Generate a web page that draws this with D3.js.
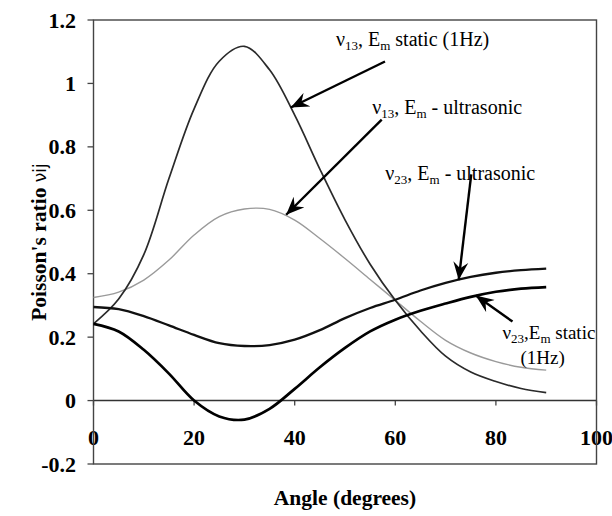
<!DOCTYPE html>
<html>
<head>
<meta charset="utf-8">
<script src="https://cdn.jsdelivr.net/npm/d3@7"></script>
<style>
  html, body { margin: 0; padding: 0; background: #fff; }
  svg { display: block; }
  text { font-family: "Liberation Serif", "Times New Roman", serif; fill: #000; }
</style>
</head>
<body>
<svg id="chart" width="612" height="516"></svg>
<script>
// ---- data ----
const angles = [0, 5, 10, 15, 20, 25, 30, 35, 40, 45, 50, 55, 60, 65, 70, 75, 80, 85, 90];
const nu13Static = [0.242, 0.32, 0.46, 0.70, 0.92, 1.07, 1.117, 1.043, 0.90, 0.73, 0.57, 0.43, 0.316, 0.22, 0.14, 0.09, 0.06, 0.038, 0.025];
const nu13Ultra  = [0.325, 0.342, 0.38, 0.443, 0.522, 0.58, 0.604, 0.603, 0.569, 0.511, 0.448, 0.382, 0.316, 0.25, 0.19, 0.15, 0.123, 0.105, 0.096];
const nu23Ultra  = [0.295, 0.288, 0.266, 0.237, 0.207, 0.181, 0.172, 0.175, 0.192, 0.222, 0.26, 0.292, 0.318, 0.347, 0.371, 0.39, 0.403, 0.411, 0.416];
const nu23Static = [0.242, 0.218, 0.16, 0.085, 0.0, -0.05, -0.06, -0.026, 0.037, 0.105, 0.166, 0.218, 0.255, 0.283, 0.306, 0.327, 0.343, 0.353, 0.358];
const xTicks = [0, 20, 40, 60, 80, 100];
const yTicks = [-0.2, 0, 0.2, 0.4, 0.6, 0.8, 1, 1.2];
const yTickLabels = ["-0.2", "0", "0.2", "0.4", "0.6", "0.8", "1", "1.2"];

// ---- layout ----
const svg = d3.select("#chart");
const x = d3.scaleLinear().domain([0, 100]).range([93.5, 596.5]);
const y = d3.scaleLinear().domain([-0.2, 1.2]).range([464, 20]);

// tick labels (drawn first so the frame lines overlap them)
svg.append("g").selectAll("text").data(xTicks).join("text")
  .attr("x", d => x(d)).attr("y", 445)
  .attr("text-anchor", "middle")
  .attr("font-weight", "bold").attr("font-size", 22)
  .text(d => d);

svg.append("g").selectAll("text").data(yTicks).join("text")
  .attr("x", 76).attr("y", d => y(d) + 7.5)
  .attr("text-anchor", "end")
  .attr("font-weight", "bold").attr("font-size", 22)
  .text((d, i) => yTickLabels[i]);

// y tick marks
svg.append("g").selectAll("line").data(yTicks).join("line")
  .attr("x1", x(0) - 6).attr("x2", x(0))
  .attr("y1", d => y(d)).attr("y2", d => y(d))
  .attr("stroke", "#444").attr("stroke-width", 1.3);

// x tick marks on the zero line
svg.append("g").selectAll("line").data(xTicks).join("line")
  .attr("x1", d => x(d)).attr("x2", d => x(d))
  .attr("y1", y(0)).attr("y2", y(0) + 5)
  .attr("stroke", "#444").attr("stroke-width", 1.3);

// zero line
svg.append("line")
  .attr("x1", x(0)).attr("x2", x(100))
  .attr("y1", y(0)).attr("y2", y(0))
  .attr("stroke", "#333").attr("stroke-width", 1.4);

// frame
svg.append("rect")
  .attr("x", x(0)).attr("y", y(1.2))
  .attr("width", x(100) - x(0)).attr("height", y(-0.2) - y(1.2))
  .attr("fill", "none").attr("stroke", "#444").attr("stroke-width", 1.4);

// axis titles
svg.append("text")
  .attr("x", 345).attr("y", 505)
  .attr("text-anchor", "middle")
  .attr("font-weight", "bold").attr("font-size", 21.5)
  .text("Angle (degrees)");

const yt = svg.append("text")
  .attr("transform", "translate(46,242) rotate(-90)")
  .attr("text-anchor", "middle")
  .attr("font-size", 21.5);
yt.append("tspan").attr("font-weight", "bold").text("Poisson's ratio ");
yt.append("tspan").attr("font-weight", "normal").attr("font-family", "'DejaVu Sans', sans-serif").attr("font-size", 17).text("νij");

// curves
const line = d3.line().x((d, i) => x(angles[i])).y(d => y(d)).curve(d3.curveCatmullRom.alpha(0.5));
const seriesList = [
  { values: nu13Ultra, color: "#9a9a9a", width: 1.4 },
  { values: nu13Static, color: "#2a2a2a", width: 1.7 },
  { values: nu23Ultra, color: "#111", width: 2.3 },
  { values: nu23Static, color: "#000", width: 2.7 }
];
svg.append("g").selectAll("path").data(seriesList).join("path")
  .attr("d", s => line(s.values))
  .attr("fill", "none")
  .attr("stroke", s => s.color)
  .attr("stroke-width", s => s.width)
  .attr("stroke-linejoin", "round");

// arrows (data coordinates: tail -> tip on a curve)
svg.append("defs").append("marker")
  .attr("id", "ah").attr("viewBox", "-18 -8 20 16")
  .attr("refX", 0).attr("refY", 0)
  .attr("markerWidth", 20).attr("markerHeight", 16)
  .attr("markerUnits", "userSpaceOnUse").attr("orient", "auto")
  .append("path").attr("d", "M0,0 L-18,-7.5 L-12,0 L-18,7.5 Z").attr("fill", "#000");

const arrows = [
  { from: [57.95, 1.069], to: [39.2, 0.924] },
  { from: [57.3, 0.886], to: [38.3, 0.586] },
  { from: [75.1, 0.713], to: [72.6, 0.380] },
  { from: [83.3, 0.249], to: [76.0, 0.331] }
];
svg.append("g").selectAll("line").data(arrows).join("line")
  .attr("x1", d => x(d.from[0])).attr("y1", d => y(d.from[1]))
  .attr("x2", d => x(d.to[0])).attr("y2", d => y(d.to[1]))
  .attr("stroke", "#000").attr("stroke-width", 2.4)
  .attr("marker-end", "url(#ah)");

// annotation labels
const labels = [
  { at: [48.2, 1.117], size: 20, parts: [["ν"], ["13", 1], [", E"], ["m", 1], [" static (1Hz)"]] },
  { at: [55.4, 0.905], size: 20, parts: [["ν"], ["13", 1], [", E"], ["m", 1], [" - ultrasonic"]] },
  { at: [58.0, 0.697], size: 20, parts: [["ν"], ["23", 1], [", E"], ["m", 1], [" - ultrasonic"]] },
  { at: [81.3, 0.195], size: 19, parts: [["ν"], ["23", 1], [",E"], ["m", 1], [" static"]] },
  { at: [84.9, 0.116], size: 19, parts: [["(1Hz)"]] }
];
labels.forEach(l => {
  const t = svg.append("text")
    .attr("x", x(l.at[0])).attr("y", y(l.at[1]))
    .attr("font-size", l.size);
  let shifted = false;
  l.parts.forEach(p => {
    const ts = t.append("tspan").text(p[0]);
    if (p[1] && !shifted) { ts.attr("dy", 4).attr("font-size", 13); shifted = true; }
    else if (p[1]) { ts.attr("font-size", 13); }
    else if (shifted) { ts.attr("dy", -4); shifted = false; }
  });
});
</script>
</body>
</html>
